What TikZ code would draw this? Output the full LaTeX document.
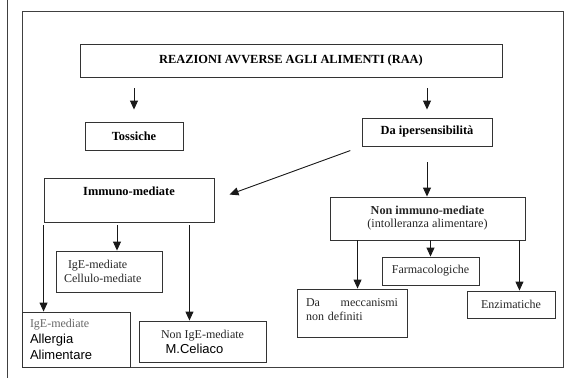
\documentclass[tikz,border=0pt]{standalone}
\usepackage{fontspec}
\setmainfont{Liberation Serif}
\setsansfont{Liberation Sans}
\usetikzlibrary{arrows.meta}

\begin{document}
\begin{tikzpicture}[x=1pt,y=-1pt]

\tikzstyle{raabox}=[draw=black!80,line width=0.9pt,rectangle,inner sep=4pt,font=\fontsize{12}{14}\selectfont,text=black!85]
\tikzstyle{raabold}=[raabox,font=\fontsize{12.4}{14}\selectfont\bfseries,text=black]
\tikzstyle{raaarrow}=[draw=black!90,line width=0.9pt,-{Triangle[length=9pt,width=8pt]}]

\useasboundingbox (0,0) rectangle (581,378);

%% Frame of the page
\draw[black!75,line width=0.9pt] (7.5,0) -- (7.5,378);
\draw[black!75,line width=0.9pt] (22,11) rectangle (563,367);

%% Top levels
\node (raa) [raabold,minimum width=422pt,minimum height=33pt] at (291,60.5) {REAZIONI AVVERSE AGLI ALIMENTI (RAA)};
\node (tox) [raabold,minimum width=98pt,minimum height=28pt] at (134,136) {Tossiche};
\node (iper) [raabold,minimum width=130pt,minimum height=28pt] at (427,132) {Da ipersensibilità};

\node (immuno) [raabold,minimum width=170pt,text height=13pt,text depth=23pt,inner ysep=4pt] at (129,200) {Immuno-mediate};
\node (nonimm) [raabox,minimum width=195pt,minimum height=43pt,align=center,font=\fontsize{12.2}{13}\selectfont] at (427.5,218.5)
    {\textbf{Non immuno-mediate}\\(intolleranza alimentare)};

%% Immuno-mediate branch
\node (igec) [raabox,minimum height=41pt,text width=90pt,inner xsep=8pt,align=left] at (109,271.5)
    {\hspace*{4pt}IgE-mediate\\Cellulo-mediate};
\node (allerg) [raabox,minimum height=55pt,text width=92pt,inner xsep=8pt,align=left,font=\fontsize{12}{16}\selectfont] at (76,339.5)
    {\textcolor{black!60}{IgE-mediate}\\\sffamily\fontsize{13}{16}\selectfont\color{black} Allergia\\Alimentare};
\node (celiaco) [raabox,minimum width=127pt,minimum height=41pt,align=center,font=\fontsize{12}{15}\selectfont] at (202.5,341.5)
    {Non IgE-mediate\\\sffamily\fontsize{13}{15}\selectfont\color{black} M.Celiaco\hspace*{16pt}};

%% Non immuno-mediate branch
\node (farm) [raabox,minimum width=97pt,minimum height=28pt] at (430.5,271) {Farmacologiche};
\node (mecc) [raabox,text width=92pt,inner xsep=9pt,text height=13pt,text depth=27pt,inner ysep=4pt,align=left] at (352,313)
    {Da\hfill meccanismi\\non definiti};
\node (enz) [raabox,minimum width=88pt,minimum height=27pt] at (511,304.5) {Enzimatiche};

%% Arrows
\draw[raaarrow,shorten <=11pt,shorten >=12pt] (raa.south -| tox.north) -- (tox.north);
\draw[raaarrow,shorten <=11pt,shorten >=8pt] (raa.south -| iper.north) -- (iper.north);
\draw[raaarrow,shorten <=12pt,shorten >=16pt] (iper.south west) -- (immuno.east);
\draw[raaarrow,shorten <=16pt] (iper.south) -- (iper.south |- nonimm.north);

\draw[raaarrow,shorten <=3pt] ([xshift=-12pt]immuno.south) -- ([xshift=-12pt]immuno.south |- igec.north);
\draw[raaarrow,shorten <=3pt] (immuno.south west) -- (immuno.south west |- allerg.north);
\draw[raaarrow,shorten <=3pt] ([xshift=-25pt]immuno.south east) -- ([xshift=-25pt]immuno.south east |- celiaco.north);

\draw[raaarrow] ([xshift=28pt]nonimm.south west) -- ([xshift=28pt]nonimm.south west |- mecc.north);
\draw[raaarrow] (farm.north |- nonimm.south) -- (farm.north);
\draw[raaarrow] ([xshift=-6pt]nonimm.south east) -- ([xshift=-6pt]nonimm.south east |- enz.north);

\end{tikzpicture}
\end{document}
